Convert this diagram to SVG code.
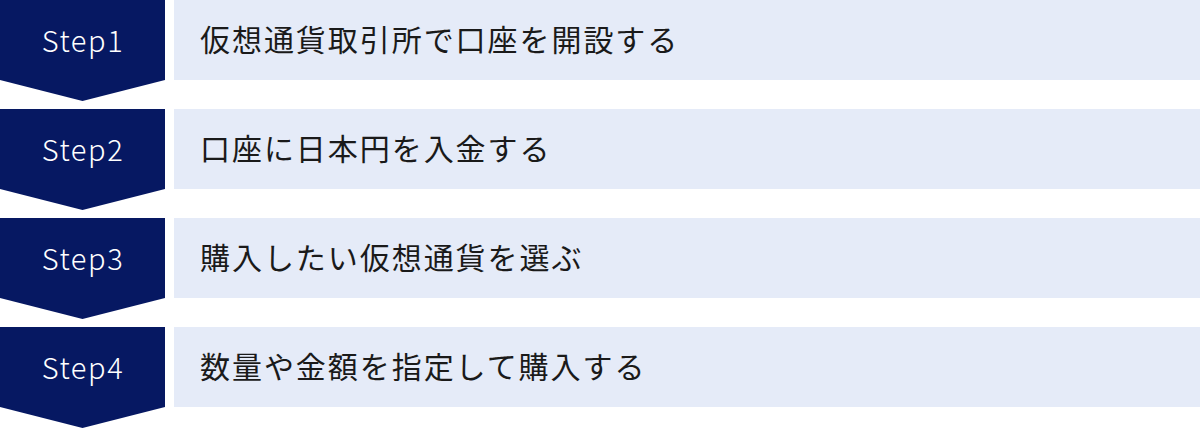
<svg xmlns="http://www.w3.org/2000/svg" width="1200" height="429" viewBox="0 0 1200 429">
<style>
.chev{fill:#061862}
.box{fill:#e5ebf8}
.step{font-family:"Noto Sans CJK JP","Noto Sans",sans-serif;font-size:29px;font-weight:300;fill:#ffffff;text-anchor:middle;letter-spacing:1.6px}
.lbl{font-family:"Noto Sans CJK JP",sans-serif;font-size:30px;fill:#1a1a1a;letter-spacing:1.95px}
</style>
<g id="step1">
<polygon class="chev" points="0,0 165,0 165,80 82.5,101 0,80"/>
<rect class="box" x="174" y="0" width="1026" height="80"/>
<text class="step" x="83" y="52">Step1</text>
<text class="lbl" x="200" y="51">仮想通貨取引所で口座を開設する</text>
</g>
<g id="step2">
<polygon class="chev" points="0,109 165,109 165,189 82.5,210 0,189"/>
<rect class="box" x="174" y="109" width="1026" height="80"/>
<text class="step" x="83" y="161">Step2</text>
<text class="lbl" x="200" y="160">口座に日本円を入金する</text>
</g>
<g id="step3">
<polygon class="chev" points="0,218 165,218 165,298 82.5,319 0,298"/>
<rect class="box" x="174" y="218" width="1026" height="80"/>
<text class="step" x="83" y="270">Step3</text>
<text class="lbl" x="200" y="269">購入したい仮想通貨を選ぶ</text>
</g>
<g id="step4">
<polygon class="chev" points="0,327 165,327 165,407 82.5,428 0,407"/>
<rect class="box" x="174" y="327" width="1026" height="80"/>
<text class="step" x="83" y="379">Step4</text>
<text class="lbl" x="200" y="378">数量や金額を指定して購入する</text>
</g>
<g id="connectors"></g>
</svg>
